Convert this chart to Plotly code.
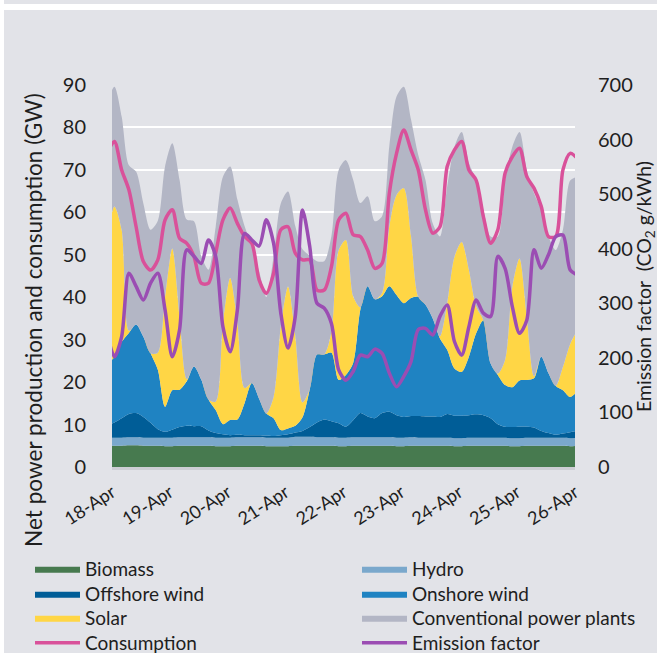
import pandas as pd
import plotly.graph_objects as go

# ---- data (3-hourly readings, 17-Apr 22:00 .. 26-Apr 01:00) ----
times = pd.date_range("2019-04-17 22:00", periods=66, freq="3h")

biomass = [5.0, 5.0, 5.0, 5.1, 5.1, 5.0, 5.0, 5.0, 4.9, 4.9, 5.0,
           5.0, 5.0, 5.0, 5.0, 4.9, 4.9, 4.9, 5.0, 5.0, 5.0, 5.0,
           4.9, 4.9, 4.9, 4.9, 5.0, 5.0, 5.0, 5.0, 5.0, 5.0, 4.9,
           4.9, 5.0, 5.0, 5.0, 5.0, 5.0, 5.0, 4.9, 4.9, 5.0, 5.0,
           5.0, 5.0, 5.0, 5.0, 4.9, 4.9, 5.0, 5.0, 5.0, 5.0, 5.0,
           5.0, 4.9, 4.9, 5.0, 5.0, 5.0, 5.0, 5.0, 5.0, 4.9, 5.0]

hydro = [1.9, 1.9, 1.9, 1.9, 1.9, 1.9, 1.9, 1.9, 2.0, 2.0, 2.0,
         2.0, 2.0, 2.0, 2.0, 2.0, 2.0, 2.0, 2.0, 2.0, 2.0, 2.0,
         2.0, 2.0, 2.0, 2.0, 2.1, 2.1, 2.1, 2.0, 2.0, 2.0, 2.0,
         2.0, 2.0, 2.0, 2.0, 2.0, 2.0, 2.0, 2.0, 2.0, 2.0, 1.9,
         1.9, 1.9, 1.9, 1.9, 1.9, 1.9, 1.9, 1.9, 1.9, 1.9, 1.9,
         1.9, 1.9, 1.9, 1.9, 1.9, 1.9, 1.9, 1.9, 1.9, 1.9, 1.9]

offshore = [3.0, 3.6, 4.6, 5.5, 5.7, 4.9, 3.5, 2.0, 1.4, 1.9,
            2.4, 2.7, 2.6, 2.6, 1.6, 1.1, 0.8, 0.6, 0.6, 0.5,
            0.5, 0.5, 0.5, 0.4, 0.6, 0.8, 1.0, 1.4, 2.3, 3.5,
            4.2, 3.8, 3.4, 2.6, 4.0, 5.7, 4.9, 4.5, 5.7, 6.0,
            5.3, 4.9, 5.0, 5.1, 5.0, 5.0, 4.9, 5.6, 5.3, 5.3,
            5.3, 5.5, 5.3, 4.6, 3.2, 2.6, 2.6, 2.7, 2.6, 2.4,
            1.6, 1.1, 0.7, 1.0, 1.4, 1.6]

onshore = [14.1, 15.5, 18.0, 19.1, 20.9, 18.9, 16.4, 14.0, 5.9, 9.3,
           8.8, 10.5, 14.1, 11.0, 7.3, 5.4, 2.4, 3.6, 3.6, 7.6,
           12.3, 8.6, 5.2, 4.2, 1.2, 1.4, 1.6, 3.2, 8.9, 16.0,
           15.3, 16.1, 10.2, 12.2, 13.5, 24.4, 30.7, 28.0, 27.5, 29.6,
           28.3, 26.8, 27.8, 28.1, 26.3, 23.1, 18.5, 15.1, 11.1, 10.3,
           13.8, 19.1, 22.4, 12.9, 11.6, 9.8, 9.4, 10.9, 11.0, 11.6,
           17.5, 14.1, 11.5, 10.2, 8.3, 9.3]

solar = [30.0, 35.4, 26.4, 0.5, 0.0, 0.0, 0.0, 4.0, 25.9, 33.4,
         17.3, 0.5, 0.0, 0.0, 0.0, 2.0, 23.8, 33.4, 22.8, 3.5,
         0.0, 0.0, 0.0, 5.0, 24.4, 33.4, 21.2, 3.5, 0.0, 0.0,
         0.0, 5.0, 30.6, 31.8, 15.7, 0.5, 0.0, 0.0, 0.8, 14.1,
         23.6, 27.1, 14.6, 0.0, 0.0, 0.0, 0.5, 11.0, 26.3, 30.6,
         20.4, 6.3, 0.0, 0.0, 0.3, 5.9, 23.6, 28.7, 14.9, 0.5,
         0.0, 0.0, 0.0, 5.5, 12.5, 14.5]

conventional = [32.0, 28.2, 26.7, 39.0, 36.0, 31.4, 29.1, 31.1, 30.7, 24.8,
                32.2, 37.6, 34.2, 29.1, 30.6, 41.2, 34.5, 26.3, 29.0, 38.1,
                32.2, 30.0, 27.5, 33.1, 29.0, 22.4, 25.9, 36.1, 31.5, 22.0,
                22.0, 22.5, 18.9, 18.8, 27.5, 24.6, 21.2, 18.4, 18.1, 18.9,
                23.2, 23.9, 27.5, 33.4, 29.4, 22.4, 23.5, 27.5, 25.9, 25.9,
                25.2, 29.8, 26.0, 29.9, 32.3, 42.4, 33.0, 29.8, 34.6, 43.1,
                34.6, 32.2, 32.0, 32.3, 38.5, 36.1]

consumption = [74.0, 76.7, 70.0, 65.3, 56.6, 48.4, 46.4, 48.8, 58.2, 60.6,
               53.9, 52.7, 49.6, 43.3, 43.3, 50.4, 58.2, 61.0, 57.4, 54.3,
               52.7, 44.1, 40.9, 45.6, 55.9, 56.6, 50.4, 48.8, 48.8, 41.7,
               41.7, 47.2, 58.2, 59.8, 54.7, 54.3, 51.1, 46.8, 48.0, 64.5,
               73.9, 79.4, 74.7, 70.0, 60.6, 55.1, 56.6, 70.8, 74.7, 76.7,
               70.0, 67.6, 59.0, 52.7, 55.9, 69.2, 73.1, 75.1, 68.4, 65.7,
               61.4, 54.3, 54.3, 70.0, 73.9, 72.7]

emission = [245, 202, 239, 355, 331, 306, 337, 355, 288, 202,
            251, 398, 386, 373, 416, 386, 257, 211, 288, 428,
            416, 405, 453, 410, 282, 218, 276, 471, 404, 300,
            291, 263, 178, 159, 175, 205, 202, 216, 208, 172,
            147, 166, 193, 252, 254, 242, 276, 297, 230, 205,
            257, 306, 282, 276, 386, 364, 294, 245, 269, 398,
            364, 389, 422, 425, 361, 352]

day_ticks = pd.date_range("2019-04-18", "2019-04-26", freq="D")

left_title = "Net power production and consumption (GW)"
right_title = "Emission factor  (CO<sub>2</sub> g/kWh)"

# ---- styling ----
BG = "#e2e3e8"
FONT = "Lato"
TXT = "#1e1e1e"

L, R, T, B = 112, 575, 85, 467
W, H = 657, 653
pw, ph = R - L, B - T


def px(x):
    return (x - L) / pw


def py(y):
    return (B - y) / ph


# legend slot for each series: (legend id, left x px, row centre y px)
LEFT_X, RIGHT_X = 30, 357
ROWS = [569, 594, 618, 643]

# (name, values, colour, legend slot)
stack = [
    ("Biomass", biomass, "#477a4f", ("legend", LEFT_X, ROWS[0])),
    ("Hydro", hydro, "#7aa8cc", ("legend2", RIGHT_X, ROWS[0])),
    ("Offshore wind", offshore, "#005d97", ("legend3", LEFT_X, ROWS[1])),
    ("Onshore wind", onshore, "#1f83c2", ("legend4", RIGHT_X, ROWS[1])),
    ("Solar", solar, "#ffd645", ("legend5", LEFT_X, ROWS[2])),
    ("Conventional power plants", conventional, "#b3b6c5",
     ("legend6", RIGHT_X, ROWS[2])),
]
line_slots = {"Consumption": ("legend7", LEFT_X, ROWS[3]),
              "Emission factor": ("legend8", RIGHT_X, ROWS[3])}

fig = go.Figure()
legend_layouts = {}
leg_common = dict(orientation="v", xanchor="left", yanchor="middle",
                  itemwidth=45, font=dict(size=19, family=FONT, color=TXT),
                  bgcolor="rgba(0,0,0,0)", borderwidth=0)

for name, vals, col, (leg, lx, ly) in stack:
    fig.add_trace(go.Scatter(
        x=times, y=vals, name=name, stackgroup="gen", mode="lines",
        line=dict(width=0, shape="spline", smoothing=0.8, color=col),
        fillcolor=col, hoverinfo="skip", legend=leg))
    legend_layouts[leg] = dict(x=px(lx), y=py(ly), **leg_common)

leg, lx, ly = line_slots["Consumption"]
fig.add_trace(go.Scatter(
    x=times, y=consumption, name="Consumption", mode="lines", legend=leg,
    line=dict(color="#d9519a", width=3.5, shape="spline", smoothing=0.8)))
legend_layouts[leg] = dict(x=px(lx), y=py(ly), **leg_common)

leg, lx, ly = line_slots["Emission factor"]
fig.add_trace(go.Scatter(
    x=times, y=emission, name="Emission factor", mode="lines", yaxis="y2",
    legend=leg,
    line=dict(color="#9b4db3", width=3.5, shape="spline", smoothing=0.8)))
legend_layouts[leg] = dict(x=px(lx), y=py(ly), **leg_common)

shapes = [
    # white left strip and white band near the top
    dict(type="rect", xref="paper", yref="paper", x0=px(-5), x1=px(4),
         y0=py(H + 5), y1=py(-5), fillcolor="white", line_width=0, layer="below"),
    dict(type="rect", xref="paper", yref="paper", x0=px(-5), x1=px(W + 5),
         y0=py(10), y1=py(4), fillcolor="white", line_width=0, layer="below"),
]

annotations = [
    dict(xref="paper", yref="paper", x=px(33), y=py(320), xanchor="center",
         yanchor="middle", textangle=-90, showarrow=False, text=left_title,
         font=dict(size=22.6, family=FONT, color=TXT)),
    dict(xref="paper", yref="paper", x=px(645), y=py(287), xanchor="center",
         yanchor="middle", textangle=-90, showarrow=False, text=right_title,
         font=dict(size=19.5, family=FONT, color=TXT)),
]

fig.update_layout(
    width=W, height=H,
    margin=dict(l=L, r=W - R, t=T, b=H - B, pad=0, autoexpand=False),
    paper_bgcolor=BG, plot_bgcolor=BG,
    font=dict(family=FONT, color=TXT, size=18),
    shapes=shapes,
    annotations=annotations,
    showlegend=True,
    xaxis=dict(type="date", range=["2019-04-18", "2019-04-26"],
               tickvals=day_ticks, tickformat="%d-%b", tickangle=-33,
               tickfont=dict(size=18), showgrid=False, zeroline=False,
               showline=True, linecolor="#cdced4", linewidth=3,
               ticks="outside", ticklen=5, tickcolor="rgba(0,0,0,0)"),
    yaxis=dict(range=[0, 90], dtick=10, gridcolor="white", gridwidth=2,
               zeroline=False, showline=False, tickfont=dict(size=20),
               ticks="outside", ticklen=21, tickcolor="rgba(0,0,0,0)"),
    yaxis2=dict(range=[0, 700], dtick=100, overlaying="y", side="right",
                showgrid=False, zeroline=False, tickfont=dict(size=20),
                ticks="outside", ticklen=18, tickcolor="rgba(0,0,0,0)"),
    **legend_layouts,
)

fig.write_html("out.html", config={"displayModeBar": False},
               post_script="document.body.style.margin='0';document.body.style.overflow='hidden';")
